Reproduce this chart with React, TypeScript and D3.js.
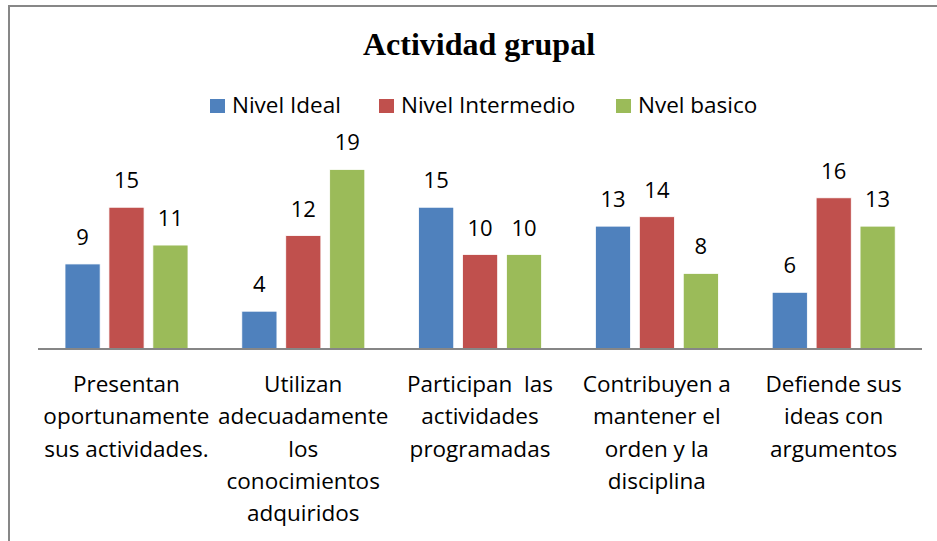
import React, { useEffect, useRef } from "react";
import * as d3 from "d3";

// categories (each one already split into lines as in the picture)
const categories = [
  ["Presentan", "oportunamente", "sus actividades."],
  ["Utilizan", "adecuadamente", "los", "conocimientos", "adquiridos"],
  ["Participan  las", "actividades", "programadas"],
  ["Contribuyen a", "mantener el", "orden y la", "disciplina"],
  ["Defiende sus", "ideas con", "argumentos"],
];
const seriesNames = ["Nivel Ideal", "Nivel Intermedio", "Nvel basico"];
const nivelIdeal = [9, 4, 15, 13, 6];
const nivelIntermedio = [15, 12, 10, 14, 16];
const nivelBasico = [11, 19, 10, 8, 13];
const colors = ["#4F81BD", "#C0504D", "#9BBB59"];

const W = 937;
const H = 541;
const FONT = "'Open Sans', 'Noto Sans', sans-serif";

const App = () => {
  const ref = useRef<SVGSVGElement>(null);

  useEffect(() => {
    if (!ref.current) return;
    const svg = d3.select(ref.current);
    svg.selectAll("*").remove();

    const series = [nivelIdeal, nivelIntermedio, nivelBasico];
    const left = 38;
    const right = 922;
    const base = 349;

    const x0 = d3
      .scaleBand()
      .domain(categories.map((_, i) => String(i)))
      .range([left, right])
      .paddingInner(0)
      .paddingOuter(0);
    const x1 = d3
      .scaleBand()
      .domain(seriesNames)
      .range([27, 27 + 123])
      .paddingInner(0.2);
    const y = d3.scaleLinear().domain([0, 20]).range([base, base - 189]);

    // frame
    svg.append("rect")
      .attr("x", 9)
      .attr("y", 6)
      .attr("width", 960)
      .attr("height", 600)
      .attr("fill", "none")
      .attr("stroke", "#878787")
      .attr("stroke-width", 2);

    // title
    svg.append("text")
      .attr("x", 479)
      .attr("y", 55)
      .attr("text-anchor", "middle")
      .attr("font-family", "'Liberation Serif', 'DejaVu Serif', serif")
      .attr("font-weight", "bold")
      .attr("font-size", 32)
      .text("Actividad grupal");

    // legend
    const legendX = [210, 379, 616];
    const legend = svg.append("g");
    seriesNames.forEach((name, i) => {
      legend.append("rect")
        .attr("x", legendX[i])
        .attr("y", 99)
        .attr("width", 15)
        .attr("height", 14)
        .attr("fill", colors[i]);
      legend.append("text")
        .attr("x", legendX[i] + 22)
        .attr("y", 113)
        .attr("font-family", FONT)
        .attr("font-size", 22.5)
        .attr("fill", "#000")
        .text(name);
    });

    // bars
    const groups = svg.selectAll("g.cat")
      .data(categories)
      .enter()
      .append("g")
      .attr("class", "cat")
      .attr("transform", (_, i) => `translate(${x0(String(i))},0)`);

    seriesNames.forEach((name, s) => {
      groups.append("rect")
        .attr("x", x1(name)!)
        .attr("width", x1.bandwidth())
        .attr("y", (_, i) => y(series[s][i]))
        .attr("height", (_, i) => base - y(series[s][i]))
        .attr("fill", colors[s])
        .attr("stroke", "#fff")
        .attr("stroke-width", 0.8);

      groups.append("text")
        .attr("x", x1(name)! + x1.bandwidth() / 2)
        .attr("y", (_, i) => y(series[s][i]) - 19)
        .attr("text-anchor", "middle")
        .attr("font-family", FONT)
        .attr("font-size", 22)
        .text((_, i) => series[s][i]);
    });

    // axis line
    svg.append("line")
      .attr("x1", left)
      .attr("x2", right)
      .attr("y1", base)
      .attr("y2", base)
      .attr("stroke", "#868686")
      .attr("stroke-width", 2);

    // category labels
    groups.each(function (lines) {
      const t = d3.select(this).append("text")
        .attr("text-anchor", "middle")
        .attr("font-family", FONT)
        .attr("font-size", 22.5)
        .style("white-space", "pre");
      lines.forEach((line, k) => {
        t.append("tspan")
          .attr("x", x0.bandwidth() / 2)
          .attr("y", 392 + k * 32.3)
          .text(line);
      });
    });
  }, []);

  return (
    <svg
      ref={ref}
      width={W}
      height={H}
      style={{ position: "absolute", left: 0, top: 0, background: "#fff" }}
    />
  );
};

export default App;
